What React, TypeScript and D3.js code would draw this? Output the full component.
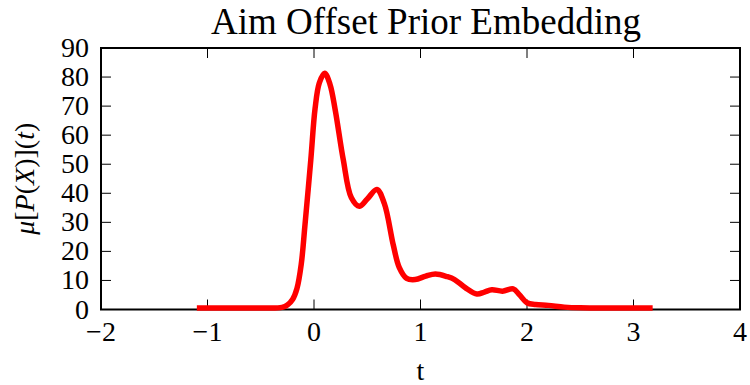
import * as d3 from 'd3';
import { useEffect, useRef } from 'react';

// values
const tValues = [-1.1, -0.5, -0.3, -0.25, -0.2, -0.16, -0.12, -0.085, -0.03, 0.01, 0.05, 0.10, 0.15, 0.20, 0.275, 0.35, 0.425, 0.5, 0.59, 0.66, 0.745, 0.8, 0.87, 0.95, 1.05, 1.14, 1.25, 1.32, 1.42, 1.53, 1.6, 1.67, 1.77, 1.87, 1.93, 2.0, 2.08, 2.2, 2.35, 2.5, 3.18];
const muValues = [0, 0, 0.2, 1, 3, 6.7, 15, 28.5, 51, 68.6, 77.5, 80.8, 77, 68, 51, 38, 35, 37.5, 40.8, 36, 21.6, 14, 10.2, 9.8, 11, 11.7, 10.8, 9.8, 7, 4.8, 5.5, 6.3, 5.8, 6.6, 4.5, 1.8, 1.2, 0.9, 0.3, 0.05, 0];
const xTicks = [-2, -1, 0, 1, 2, 3, 4];
const yTicks = [0, 10, 20, 30, 40, 50, 60, 70, 80, 90];

const width = 750;
const height = 385;
const margin = { left: 101, right: 10, top: 48, bottom: 75.5 };
const font = 'Liberation Serif';

type Pt = { t: number; v: number };

const App: React.FC = () => {
    const ref = useRef<SVGSVGElement | null>(null);

    useEffect(() => {
        const svg = d3.select(ref.current);
        svg.selectAll('*').remove();

        const x = d3.scaleLinear().domain([-2, 4]).range([margin.left, width - margin.right]);
        const y = d3.scaleLinear().domain([0, 90]).range([height - margin.bottom, margin.top]);

        const data: Pt[] = tValues.map((t, i) => ({ t, v: muValues[i] }));

        const line = d3.line<Pt>()
            .x(d => x(d.t))
            .y(d => y(d.v))
            .curve(d3.curveCatmullRom.alpha(0.5));

        const [x0, x1] = x.range();
        const [y0, y1] = y.range();

        // ticks (inward, all four sides)
        const tickG = svg.append('g').attr('stroke', '#000').attr('stroke-width', 1);
        xTicks.slice(1, -1).forEach(t => {
            tickG.append('line').attr('x1', x(t)).attr('x2', x(t)).attr('y1', y0).attr('y2', y0 - 10);
            tickG.append('line').attr('x1', x(t)).attr('x2', x(t)).attr('y1', y1).attr('y2', y1 + 10);
        });
        yTicks.slice(1, -1).forEach(v => {
            tickG.append('line').attr('x1', x0).attr('x2', x0 + 10).attr('y1', y(v)).attr('y2', y(v));
            tickG.append('line').attr('x1', x1).attr('x2', x1 - 10).attr('y1', y(v)).attr('y2', y(v));
        });

        // frame
        svg.append('rect')
            .attr('x', x0).attr('y', y1)
            .attr('width', x1 - x0).attr('height', y0 - y1)
            .attr('fill', 'none').attr('stroke', '#000').attr('stroke-width', 2);

        svg.append('path')
            .datum(data)
            .attr('d', line)
            .attr('transform', 'translate(0,-1.5)')
            .attr('fill', 'none')
            .attr('stroke', '#ff0000')
            .attr('stroke-width', 5.5)
            .attr('stroke-linejoin', 'round');

        // tick labels
        svg.append('g').selectAll('text')
            .data(xTicks).enter().append('text')
            .attr('x', d => x(d)).attr('y', 340.5)
            .attr('text-anchor', 'middle')
            .style('font-family', font).attr('font-size', 28)
            .text(d => (d < 0 ? '\u2212' + Math.abs(d) : String(d)));

        svg.append('g').selectAll('text')
            .data(yTicks).enter().append('text')
            .attr('x', 89).attr('y', d => y(d) + 9)
            .attr('text-anchor', 'end')
            .style('font-family', font).attr('font-size', 28)
            .text(d => String(d));

        // title
        svg.append('text')
            .attr('x', 426).attr('y', 34)
            .attr('text-anchor', 'middle')
            .style('font-family', font).attr('font-size', 37)
            .text('Aim Offset Prior Embedding');

        // x label
        svg.append('text')
            .attr('x', (x0 + x1) / 2).attr('y', 380)
            .attr('text-anchor', 'middle')
            .style('font-family', font).attr('font-size', 28)
            .text('t');

        // y label
        const yl = svg.append('text')
            .attr('transform', `translate(34,${(y0 + y1) / 2}) rotate(-90)`)
            .attr('text-anchor', 'middle')
            .style('font-family', font).attr('font-size', 28);
        yl.append('tspan').attr('font-style', 'italic').text('\u03bc');
        yl.append('tspan').text('[');
        yl.append('tspan').attr('font-style', 'italic').text('P');
        yl.append('tspan').text('(');
        yl.append('tspan').attr('font-style', 'italic').text('X');
        yl.append('tspan').text(')](');
        yl.append('tspan').attr('font-style', 'italic').text('t');
        yl.append('tspan').text(')');
    }, []);

    return (
        <svg
            ref={ref}
            width={width}
            height={height}
            style={{ position: 'absolute', left: 0, top: 0, background: '#fff' }}
        />
    );
};

export default App;
